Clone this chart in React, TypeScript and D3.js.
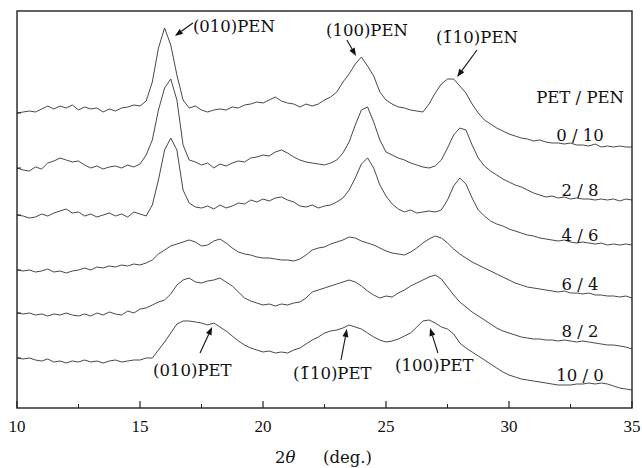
import React, { useEffect, useRef } from 'react';
import * as d3 from 'd3';

// 2theta grid: 10 to 35 deg, 0.25 deg step
const theta = d3.range(101).map((i) => 10 + i * 0.25);

// intensities (arb. units), one array per PET/PEN ratio
const r0_10 = [
  0, 1, 2, 1, 4, 7, 4, 7, 5, 8,
  3, 6, 4, 5, 1, 4, 2, 5, 6, 8,
  7, 12, 31, 65, 85, 68, 38, 13, 5, 7,
  3, 1, 3, 4, 3, 6, 5, 8, 9, 11,
  10, 13, 16, 12, 10, 9, 6, 9, 7, 9,
  13, 16, 21, 31, 39, 49, 56, 47, 37, 21,
  13, 9, 6, 5, 3, 2, 1, 9, 20, 29,
  34, 34, 27, 20, 9, 0, -7, -11, -15, -18,
  -21, -23, -25, -26, -28, -27, -29, -30, -30, -31,
  -30, -32, -32, -33, -31, -34, -33, -34, -33, -34,
  -34,
];
const r2_8 = [
  0, -2, -3, 1, -1, 5, 7, 10, 8, 6,
  7, 3, 0, 2, -1, 1, 2, 0, 3, 1,
  4, 13, 28, 58, 80, 89, 68, 23, 8, 6,
  3, 5, 0, 4, 2, 5, 7, 6, 10, 11,
  13, 12, 16, 18, 15, 11, 8, 6, 5, 4,
  3, 5, 8, 15, 26, 43, 58, 61, 46, 28,
  16, 13, 10, 8, 5, 3, 1, 0, 2, 8,
  20, 33, 40, 38, 23, 10, 2, -3, -7, -11,
  -14, -17, -19, -22, -25, -27, -29, -28, -30, -29,
  -31, -30, -31, -31, -32, -31, -32, -31, -33, -31,
  -32,
];
const r4_6 = [
  0, -1, -3, -2, 1, -1, 2, 4, 6, 2,
  3, -1, 1, -2, 0, 2, -1, 1, -2, 3,
  1, -1, 10, 35, 65, 77, 65, 25, 12, 8,
  7, 9, 6, 10, 7, 9, 12, 11, 15, 13,
  16, 14, 17, 18, 15, 13, 9, 8, 10, 7,
  9, 10, 13, 17, 25, 37, 51, 57, 47, 30,
  19, 11, 6, 3, 5, 2, 3, 4, 3, 5,
  15, 29, 37, 31, 17, 5, -1, -6, -9, -11,
  -14, -16, -18, -20, -21, -23, -24, -25, -26, -25,
  -27, -28, -27, -28, -29, -28, -30, -29, -30, -29,
  -30,
];
const r6_4 = [
  0, -1, 0, -2, -1, 1, -2, -1, -3, -1,
  0, 2, 0, 3, 2, 4, 3, 5, 4, 6,
  5, 7, 10, 16, 20, 24, 26, 28, 30, 28,
  24, 25, 29, 31, 27, 22, 18, 16, 15, 13,
  12, 12, 11, 10, 10, 9, 11, 15, 20, 22,
  23, 26, 28, 30, 33, 32, 29, 27, 25, 22,
  19, 17, 16, 15, 18, 22, 27, 31, 34, 32,
  27, 21, 16, 12, 8, 5, 2, -1, -4, -7,
  -10, -13, -15, -17, -18, -19, -20, -21, -22, -21,
  -23, -23, -24, -23, -25, -25, -26, -26, -27, -26,
  -28,
];
const r8_2 = [
  0, -1, 0, -2, -1, -3, -1, -2, 0, -2,
  -3, -1, -3, 0, -2, 1, -1, -2, 2, 0,
  4, 5, 8, 11, 13, 19, 28, 33, 35, 31,
  30, 32, 33, 35, 31, 27, 21, 15, 12, 10,
  8, 9, 7, 9, 8, 10, 11, 15, 21, 23,
  25, 27, 29, 31, 33, 31, 27, 22, 18, 15,
  17, 16, 20, 23, 27, 30, 33, 36, 38, 34,
  26, 18, 11, 6, 1, -3, -7, -11, -15, -18,
  -20, -22, -24, -25, -26, -26, -27, -27, -28, -27,
  -28, -29, -28, -29, -30, -31, -32, -32, -33, -34,
  -36,
];
const r10_0 = [
  0, -1, 0, -2, -3, -1, -4, -3, -5, -3,
  -4, -2, -4, -3, -5, -3, -2, -4, -3, -2,
  -2, 0, 0, 8, 16, 25, 34, 37, 37, 36,
  35, 33, 35, 31, 27, 22, 17, 13, 10, 8,
  6, 7, 5, 6, 5, 8, 10, 14, 18, 21,
  25, 27, 28, 30, 33, 31, 29, 25, 21, 18,
  16, 17, 19, 22, 25, 31, 37, 38, 35, 31,
  29, 24, 15, 10, 6, 2, -2, -6, -10, -14,
  -17, -19, -21, -22, -23, -24, -25, -26, -27, -27,
  -27, -26, -26, -25, -26, -25, -26, -28, -30, -31,
  -32,
];

const series = [r0_10, r2_8, r4_6, r6_4, r8_2, r10_0];
const ratios = ['0 / 10', '2 / 8', '4 / 6', '6 / 4', '8 / 2', '10 / 0'];
const offsets = [295, 240, 193, 138, 95, 50];
const ratioLabelY = [267, 212, 167, 118, 71, 27];

const xTicks = [10, 15, 20, 25, 30, 35];
const xMinor = [12.5, 17.5, 22.5, 27.5, 32.5];

// peak labels: text position and arrow tail/tip, in (2theta, intensity) units
const peakLabels = ['(010)PEN', '(100)PEN', '(1\u030410)PEN', '(010)PET', '(1\u030410)PET', '(100)PET'];
const peakTextX = [17.15, 22.56, 27.03, 15.53, 21.22, 25.37];
const peakTextY = [376, 372, 365, 32, 29, 37];
const arrowTail = [[17.15, 385], [23.41, 368], [28.7, 358], [17.44, 55], [23.17, 48], [27.11, 55]];
const arrowTip = [[16.42, 372], [23.78, 352], [27.89, 331], [17.93, 81], [23.41, 79], [26.79, 80]];

function App() {
  const ref = useRef(null);

  useEffect(() => {
    const width = 642, height = 468;
    const svg = d3.select(ref.current)
      .attr('width', width)
      .attr('height', height);
    svg.selectAll('*').remove();

    const x = d3.scaleLinear().domain([10, 35]).range([17, 632]);
    const y = d3.scaleLinear().domain([0, 400]).range([408, 8]);
    const annoFont = 'DejaVu Serif, serif';

    const line = d3.line()
      .x((d) => x(d[0]))
      .y((d) => y(d[1]));

    series.forEach((vals, k) => {
      const pts = vals.map((v, i) => [theta[i], v + offsets[k]]);
      svg.append('path')
        .attr('d', line(pts))
        .attr('fill', 'none')
        .attr('stroke', '#333')
        .attr('stroke-width', 0.9)
        .attr('stroke-linejoin', 'round');
      // small tick on left axis at each pattern's start
      svg.append('line')
        .attr('x1', x(10)).attr('x2', x(10) + 4)
        .attr('y1', y(vals[0] + offsets[k])).attr('y2', y(vals[0] + offsets[k]))
        .attr('stroke', '#222').attr('stroke-width', 1);
      svg.append('text')
        .attr('x', x(32.89)).attr('y', y(ratioLabelY[k]))
        .attr('text-anchor', 'middle')
        .attr('font-family', annoFont).attr('font-size', 16.5)
        .attr('fill', '#111')
        .text(ratios[k]);
    });

    svg.append('text')
      .attr('x', x(32.89)).attr('y', y(305))
      .attr('text-anchor', 'middle')
      .attr('font-family', annoFont).attr('font-size', 16.5)
      .attr('fill', '#111')
      .text('PET / PEN');

    // frame
    svg.append('rect')
      .attr('x', x(10)).attr('y', 11)
      .attr('width', x(35) - x(10)).attr('height', y(0) - 11)
      .attr('fill', 'none').attr('stroke', '#222').attr('stroke-width', 1.4);

    // x ticks (inward)
    xTicks.forEach((t) => {
      svg.append('line')
        .attr('x1', x(t)).attr('x2', x(t))
        .attr('y1', y(0)).attr('y2', y(0) - 7)
        .attr('stroke', '#222').attr('stroke-width', 1.2);
      svg.append('text')
        .attr('x', x(t)).attr('y', 432)
        .attr('text-anchor', 'middle')
        .attr('font-family', 'Liberation Serif, serif').attr('font-size', 17)
        .attr('fill', '#111')
        .text(t);
    });
    xMinor.forEach((t) => {
      svg.append('line')
        .attr('x1', x(t)).attr('x2', x(t))
        .attr('y1', y(0)).attr('y2', y(0) - 4)
        .attr('stroke', '#222').attr('stroke-width', 1);
    });

    // axis title
    const title = svg.append('text')
      .attr('x', 275).attr('y', 463)
      .attr('font-family', annoFont).attr('font-size', 16.5)
      .attr('fill', '#111');
    title.append('tspan').text('2');
    title.append('tspan').attr('font-style', 'italic').text('\u03b8');
    svg.append('text')
      .attr('x', 323).attr('y', 463)
      .attr('font-family', annoFont).attr('font-size', 16.5)
      .attr('fill', '#111')
      .text('(deg.)');

    // peak labels with arrows
    peakLabels.forEach((lab, k) => {
      svg.append('text')
        .attr('x', x(peakTextX[k])).attr('y', y(peakTextY[k]))
        .attr('font-family', annoFont).attr('font-size', 16.5)
        .attr('fill', '#111')
        .text(lab);
      const x1 = x(arrowTail[k][0]), y1 = y(arrowTail[k][1]);
      const x2 = x(arrowTip[k][0]), y2 = y(arrowTip[k][1]);
      const ang = Math.atan2(y2 - y1, x2 - x1);
      const hl = 8, hw = 3;
      const bx = x2 - hl * Math.cos(ang), by = y2 - hl * Math.sin(ang);
      svg.append('line')
        .attr('x1', x1).attr('y1', y1).attr('x2', bx).attr('y2', by)
        .attr('stroke', '#111').attr('stroke-width', 1.1);
      svg.append('path')
        .attr('d', `M${x2},${y2}L${bx + hw * Math.sin(ang)},${by - hw * Math.cos(ang)}L${bx - hw * Math.sin(ang)},${by + hw * Math.cos(ang)}Z`)
        .attr('fill', '#111');
    });

    return () => {
      d3.select(ref.current).selectAll('*').remove();
    };
  }, []);

  return <svg ref={ref} style={{ position: 'absolute', left: 0, top: 0, background: '#fff' }}></svg>;
}

export default App;
